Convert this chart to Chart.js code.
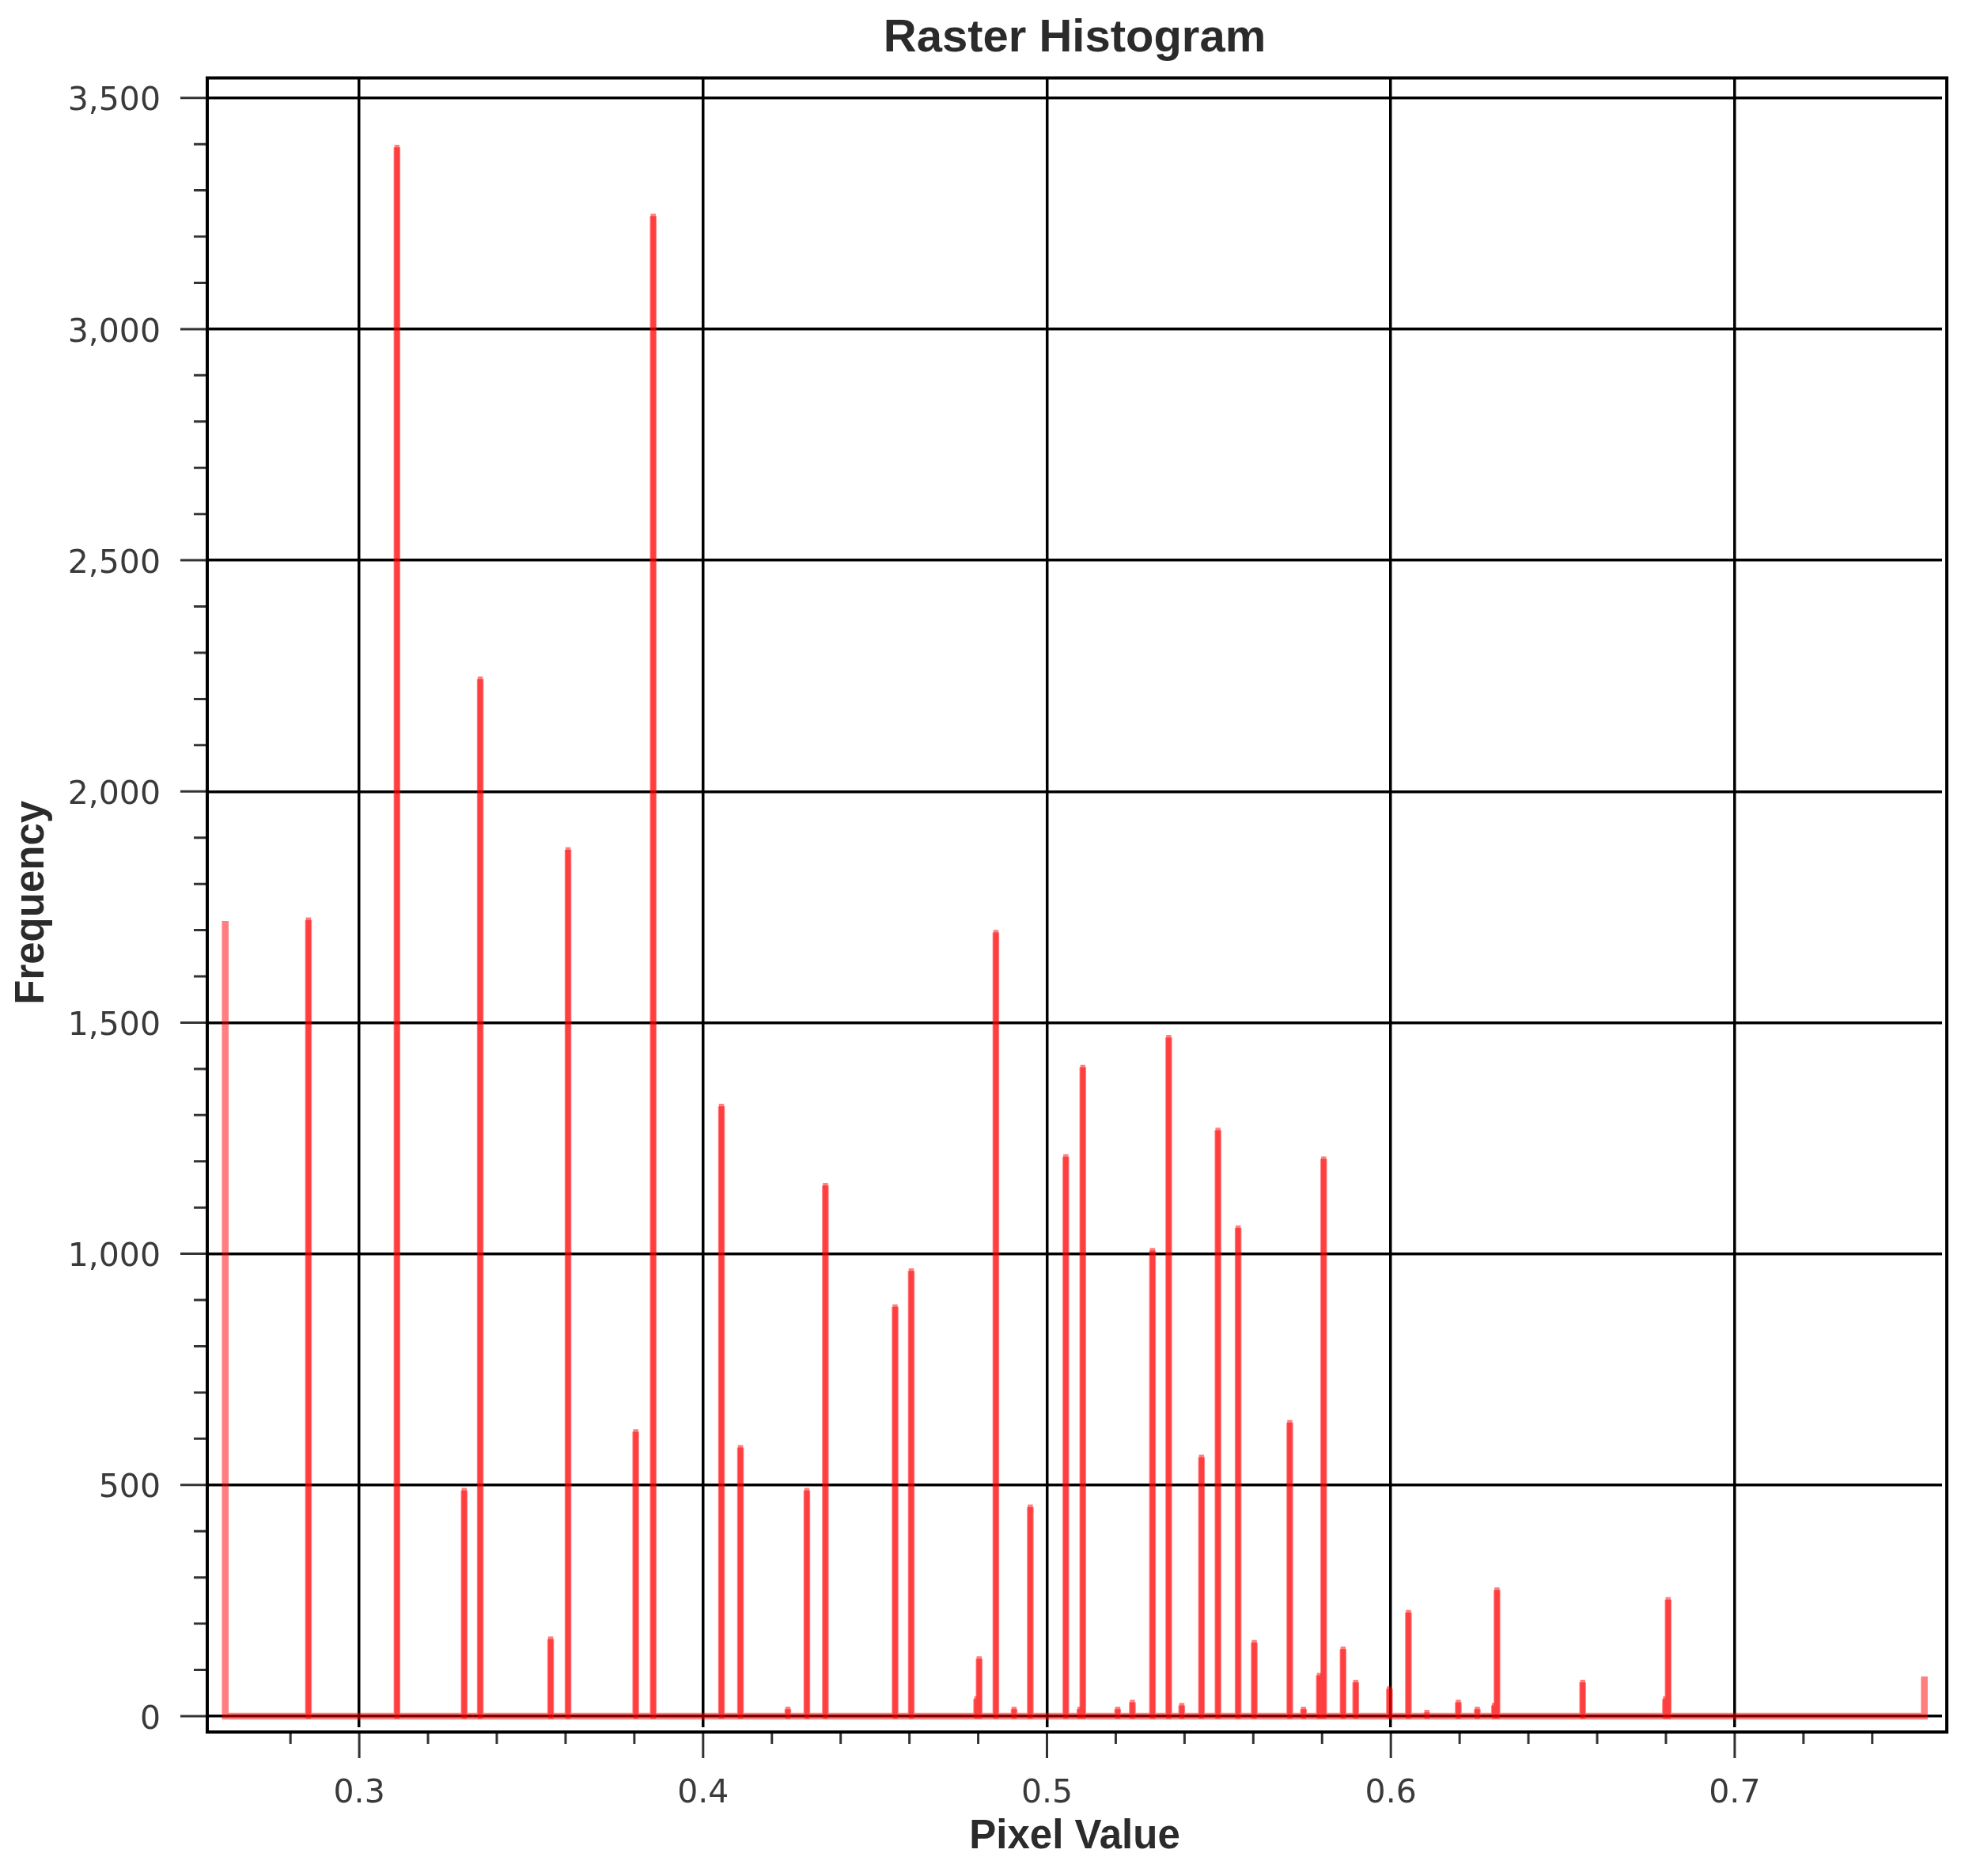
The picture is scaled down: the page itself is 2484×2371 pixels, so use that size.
<!DOCTYPE html>
<html>
<head>
<meta charset="utf-8">
<script src="https://cdn.jsdelivr.net/npm/chart.js@4.4.1/dist/chart.umd.min.js"></script>
<style>
  html, body { margin: 0; padding: 0; background: #ffffff; }
  canvas { display: block; }
</style>
</head>
<body>
<canvas id="c" width="2484" height="2371"></canvas>
<script>
// ---- data (bin pixel value, bin count) ----
const binValues = [
  0.26104, 0.28522, 0.31097, 0.33052, 0.33519, 0.35566, 0.36072, 0.38040, 0.38549, 0.40534,
  0.41086, 0.42465, 0.43017, 0.43556, 0.45584, 0.46053, 0.47955, 0.48027, 0.48514, 0.49044,
  0.49515, 0.50548, 0.50959, 0.51042, 0.52056, 0.52484, 0.53068, 0.53540, 0.53919, 0.54494,
  0.54973, 0.55559, 0.56028, 0.57061, 0.57461, 0.57921, 0.58047, 0.58611, 0.58979, 0.59959,
  0.60511, 0.61049, 0.61962, 0.62514, 0.63015, 0.63087, 0.65578, 0.67988, 0.68064, 0.75515
];
const binCounts = [
  1720, 1722, 3393, 488, 2243, 167, 1874, 615, 3244, 1319,
  581, 15, 488, 1148, 885, 963, 37, 124, 1695, 15,
  452, 1210, 15, 1403, 15, 30, 1007, 1468, 23, 560,
  1267, 1056, 159, 635, 15, 88, 1205, 145, 73, 59,
  224, 8, 30, 15, 23, 273, 73, 37, 252, 86
];
const xMajorTicks = [0.3, 0.4, 0.5, 0.6, 0.7];
const xMinorTicks = [0.28, 0.32, 0.34, 0.36, 0.38, 0.42, 0.44, 0.46, 0.48, 0.52, 0.54, 0.56, 0.58,
                     0.62, 0.64, 0.66, 0.68, 0.72, 0.74];
const yMajorTicks = [0, 500, 1000, 1500, 2000, 2500, 3000, 3500];
const yMinorTicks = [100, 200, 300, 400, 600, 700, 800, 900, 1100, 1200, 1300, 1400, 1600, 1700, 1800, 1900,
                     2100, 2200, 2300, 2400, 2600, 2700, 2800, 2900, 3100, 3200, 3300, 3400];
const titleText = 'Raster Histogram';
const xTitle = 'Pixel Value';
const yTitle = 'Frequency';

// histogram polyline: every non-empty bin rises from and returns to the empty (zero) bins
const histPoints = [];
const overlapPoints = [];
const last = binValues.length - 1;
binValues.forEach((x, i) => {
  const v = binCounts[i];
  if (i === 0) { histPoints.push({x, y: v}, {x, y: 0}); }
  else if (i === last) { histPoints.push({x, y: 0}, {x, y: v}); }
  else {
    histPoints.push({x, y: 0}, {x, y: v}, {x, y: 0});
    overlapPoints.push({x, y: 0}, {x, y: v}, {x, y: null});
  }
});

const frameAndTicks = {
  id: 'frameAndTicks',
  afterDraw(chart) {
    const {ctx, chartArea: a, scales: {x, y}} = chart;
    const fb = a.bottom + 6, fr = a.right + 6;
    ctx.save();
    ctx.strokeStyle = '#333';
    ctx.lineWidth = 3;
    ctx.beginPath();
    y.ticks.forEach(t => { const p = y.getPixelForValue(t.value); ctx.moveTo(a.left - 34, p); ctx.lineTo(a.left, p); });
    yMinorTicks.forEach(v => { const p = y.getPixelForValue(v); ctx.moveTo(a.left - 17, p); ctx.lineTo(a.left, p); });
    x.ticks.forEach(t => { const p = x.getPixelForValue(t.value); ctx.moveTo(p, fb); ctx.lineTo(p, fb + 33); });
    xMinorTicks.forEach(v => { const p = x.getPixelForValue(v); ctx.moveTo(p, fb); ctx.lineTo(p, fb + 15); });
    ctx.stroke();
    ctx.strokeStyle = '#000';
    ctx.lineWidth = 4;
    ctx.beginPath();
    ctx.moveTo(a.left, a.top); ctx.lineTo(fr, a.top); ctx.lineTo(fr, fb); ctx.lineTo(a.left, fb); ctx.closePath();
    ctx.stroke();
    ctx.restore();
  }
};

new Chart(document.getElementById('c'), {
  type: 'line',
  data: {
    datasets: [
      {
        data: histPoints,
        borderColor: 'rgba(255,0,0,0.5)',
        borderWidth: 8.5,
        borderJoinStyle: 'miter',
        borderCapStyle: 'butt',
        pointRadius: 0,
        tension: 0,
        fill: false
      },
      {
        data: overlapPoints,
        borderColor: 'rgba(255,0,0,0.5)',
        borderWidth: 6.5,
        borderCapStyle: 'square',
        pointRadius: 0,
        tension: 0,
        fill: false,
        spanGaps: false
      }
    ]
  },
  options: {
    responsive: false,
    devicePixelRatio: 1,
    animation: false,
    events: [],
    layout: { padding: { left: 0, right: 29, top: 0, bottom: 0 } },
    plugins: {
      legend: { display: false },
      tooltip: { enabled: false },
      title: {
        display: true,
        text: titleText,
        fullSize: false,
        color: '#2b2b2b',
        font: { family: 'Liberation Sans', weight: 'bold', size: 58 },
        padding: { top: 14, bottom: 15 }
      }
    },
    scales: {
      x: {
        type: 'linear',
        min: 0.2558,
        max: 0.7603,
        afterFit: s => { s.height = 188; },
        afterBuildTicks: s => { s.ticks = xMajorTicks.map(v => ({ value: v })); },
        border: { display: false },
        grid: { color: '#000', lineWidth: 3.5, drawTicks: false },
        ticks: {
          padding: 60,
          color: '#3a3a3a',
          font: { family: 'DejaVu Sans', size: 41 },
          maxRotation: 0,
          autoSkip: false,
          callback: v => v.toFixed(1)
        },
        title: {
          display: true,
          text: xTitle,
          color: '#2b2b2b',
          font: { family: 'Liberation Sans', weight: 'bold', size: 51 },
          padding: { top: 0, bottom: 18 }
        }
      },
      y: {
        type: 'linear',
        min: -24,
        max: 3543,
        afterFit: s => { s.width = 262; },
        afterBuildTicks: s => { s.ticks = yMajorTicks.map(v => ({ value: v })); },
        border: { display: false },
        grid: { color: '#000', lineWidth: 3.5, drawTicks: false },
        ticks: {
          padding: 59,
          labelOffset: 5,
          color: '#3a3a3a',
          font: { family: 'DejaVu Sans', size: 41 },
          autoSkip: false,
          callback: v => Math.round(v).toLocaleString('en-US')
        },
        title: {
          display: true,
          text: yTitle,
          color: '#2b2b2b',
          font: { family: 'Liberation Sans', weight: 'bold', size: 51 },
          padding: { top: 10, bottom: 0 }
        }
      }
    }
  },
  plugins: [frameAndTicks]
});
</script>
</body>
</html>
